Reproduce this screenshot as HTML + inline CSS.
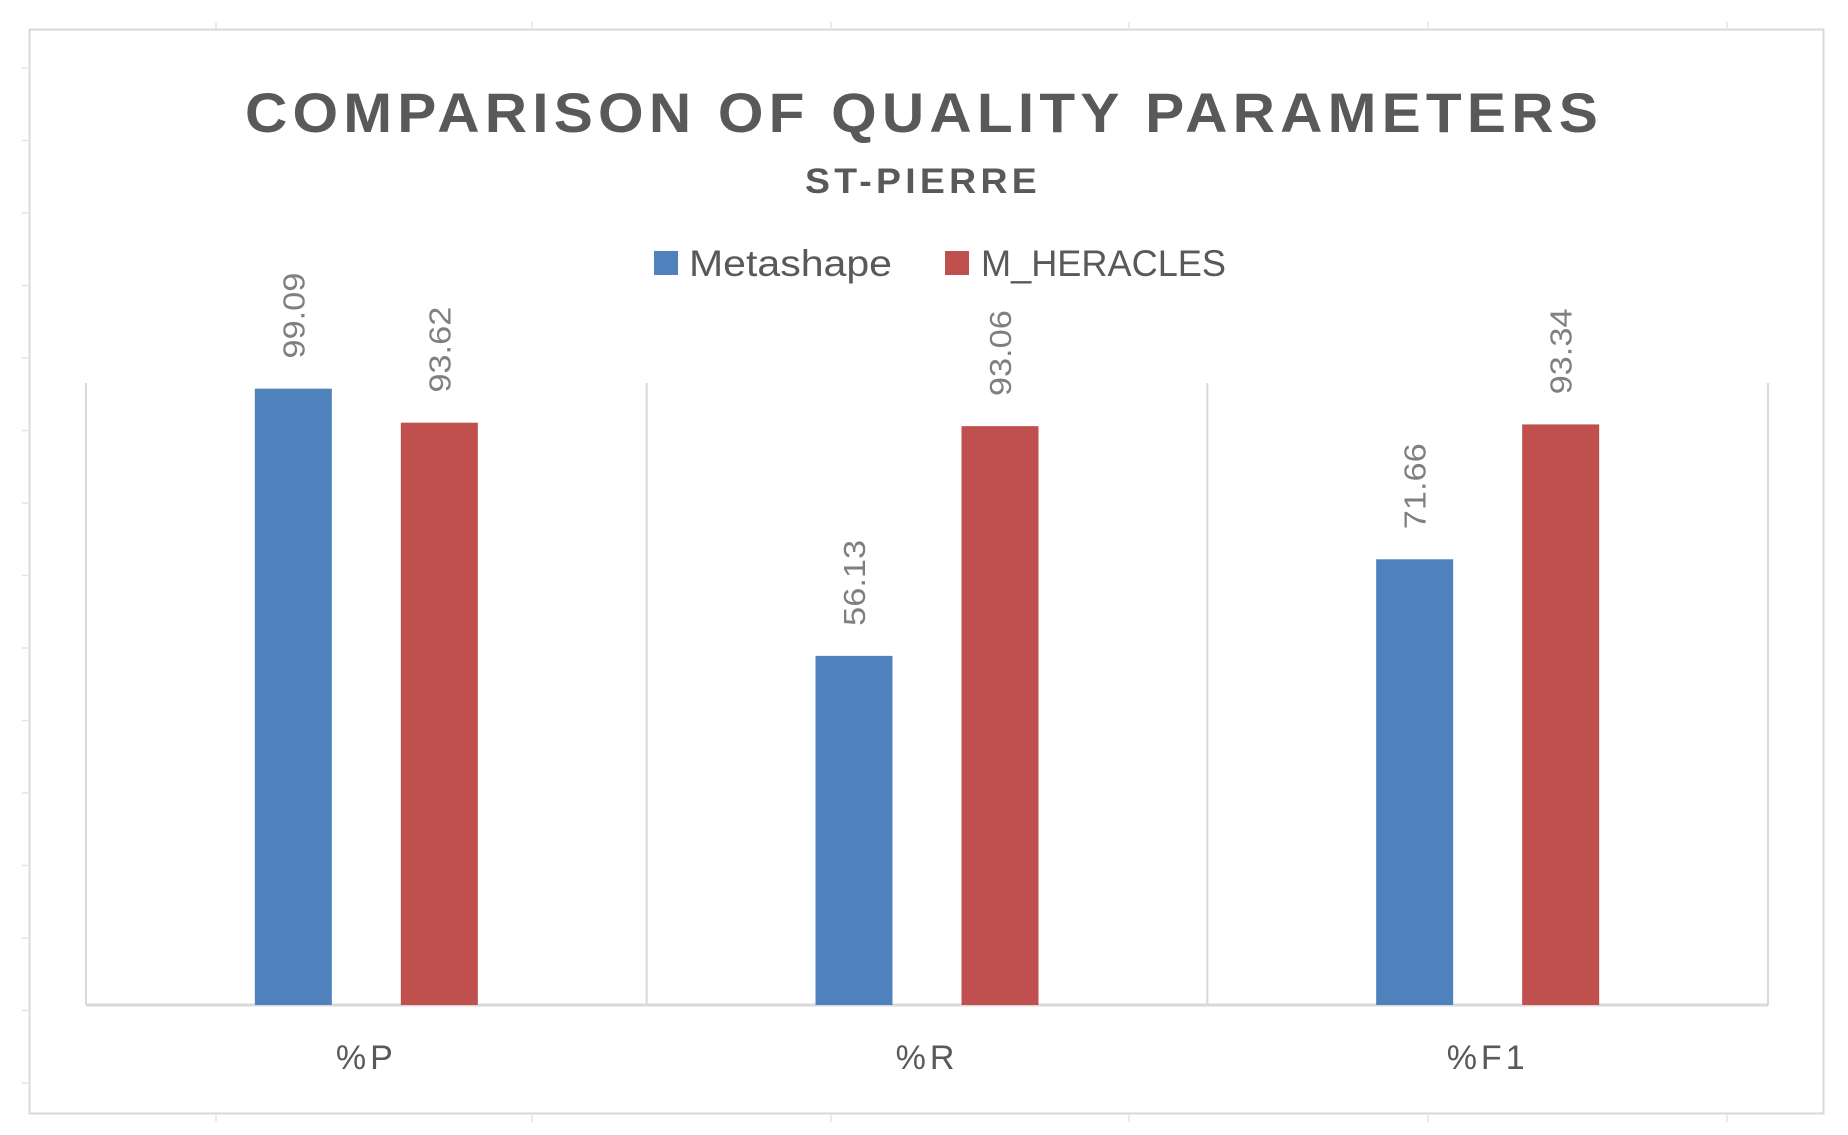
<!DOCTYPE html>
<html><head><meta charset="utf-8"><style>
html,body{margin:0;padding:0;background:#fff;}
svg{display:block;font-family:"Liberation Sans",sans-serif;}
</style></head><body>
<svg id="chart" width="1848" height="1135" viewBox="0 0 1848 1135">
<g id="artifacts"></g>
<rect x="29.5" y="29.5" width="1794" height="1084" fill="#fff" stroke="#d9d9d9" stroke-width="2"/>
<text x="924" y="132" text-anchor="middle" font-size="56" font-weight="bold" fill="#595959" letter-spacing="5" textLength="1358" lengthAdjust="spacingAndGlyphs">COMPARISON OF QUALITY PARAMETERS</text>
<text x="923" y="193" text-anchor="middle" font-size="35" font-weight="bold" fill="#595959" letter-spacing="4" textLength="236" lengthAdjust="spacingAndGlyphs">ST-PIERRE</text>
<g>
<rect x="654" y="251" width="24" height="24" fill="#4f81bd"/>
<text x="689" y="276" font-size="37" fill="#595959" textLength="203" lengthAdjust="spacingAndGlyphs">Metashape</text>
<rect x="945" y="251" width="24" height="24" fill="#c0504d"/>
<text x="981" y="276" font-size="37" fill="#595959" textLength="245" lengthAdjust="spacingAndGlyphs">M_HERACLES</text>
</g>
<g id="plot"></g>
</svg>
<script>
const categories = ["%P", "%R", "%F1"];
const metashape = [99.09, 56.13, 71.66];
const heracles = [93.62, 93.06, 93.34];
const yMax = 100;

const ns = "http://www.w3.org/2000/svg";
const plot = document.getElementById("plot");
const art = document.getElementById("artifacts");
const L = 86, R = 1768, T = 383, B = 1005;
const catW = (R - L) / categories.length;
function y(v){ return B - v / yMax * (B - T); }
function cx(i){ return L + catW * (i + 0.5); }
function mk(tag, attrs, parent){ const e = document.createElementNS(ns, tag); for (const k in attrs) e.setAttribute(k, attrs[k]); (parent || plot).appendChild(e); return e; }

// faint edge ticks outside border
for (let k = 0; k < 15; k++) {
  const yy = 68 + k * 72.5;
  mk("line", {x1: 22, x2: 28, y1: yy, y2: yy, stroke: "#e3e3e3", "stroke-width": 1.5}, art);
}
[216, 532, 831, 1129, 1428, 1727].forEach(xx => {
  mk("line", {x1: xx, x2: xx, y1: 22, y2: 28, stroke: "#e3e3e3", "stroke-width": 1.5}, art);
  mk("line", {x1: xx, x2: xx, y1: 1115, y2: 1122, stroke: "#e3e3e3", "stroke-width": 1.5}, art);
});

for (let i = 0; i <= categories.length; i++) {
  const g = mk("line", {x1: L + catW * i, x2: L + catW * i, y1: T, y2: B, stroke: "#d9d9d9", "stroke-width": 2});
  
  
}
const ax = mk("line", {x1: L, x2: R, y1: B, y2: B, stroke: "#d9d9d9", "stroke-width": 3});



const series = [{vals: metashape, color: "#4f81bd", off: -73, name: "metashape"}, {vals: heracles, color: "#c0504d", off: 73, name: "m-heracles"}];
const bw = 77;
series.forEach(s => {
  s.vals.forEach((v, i) => {
    const x = cx(i) + s.off;
    const r = mk("rect", {x: x - bw / 2, y: y(v), width: bw, height: B - y(v), fill: s.color});
    
    
    const t = mk("text", {x: 0, y: 0, "font-size": 31, fill: "#7f7f7f", textLength: 86, lengthAdjust: "spacingAndGlyphs", transform: "translate(" + (x + 11) + "," + (y(v) - 30) + ") rotate(-90)"});
    t.textContent = v.toFixed(2);
    
    
  });
});
categories.forEach((c, i) => {
  const t = mk("text", {x: cx(i), y: 1069, "text-anchor": "middle", "font-size": 34, fill: "#595959", "letter-spacing": 4});
  t.textContent = c;
  
  
});
</script>
</body></html>
